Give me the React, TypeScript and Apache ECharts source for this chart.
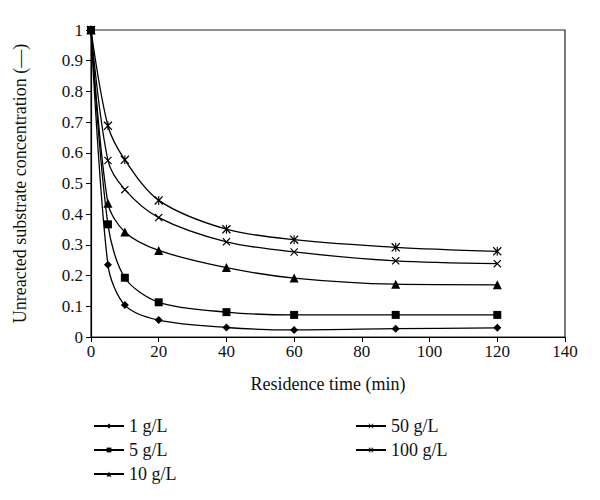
import React, { useEffect, useRef } from "react";
import * as echarts from "echarts";

const times = [0, 5, 10, 20, 40, 60, 90, 120];
const seriesNames = ["1 g/L", "5 g/L", "10 g/L", "50 g/L", "100 g/L"];
const s1 = [1, 0.235, 0.104, 0.055, 0.031, 0.023, 0.027, 0.03];
const s5 = [1, 0.367, 0.193, 0.113, 0.081, 0.072, 0.072, 0.072];
const s10 = [1, 0.436, 0.342, 0.282, 0.226, 0.192, 0.172, 0.17];
const s50 = [1, 0.575, 0.48, 0.389, 0.31, 0.277, 0.248, 0.239];
const s100 = [1, 0.688, 0.577, 0.445, 0.351, 0.317, 0.292, 0.279];

const xSym = "path://M0,1L1,0L5,4L9,0L10,1L6,5L10,9L9,10L5,6L1,10L0,9L4,5Z";
const starSym =
  "path://M0,1L1,0L4.4,3.4L4.4,0L5.6,0L5.6,3.4L9,0L10,1L6.2,4.8L6.2,5.2L10,9L9,10L5.6,6.6L5.6,10L4.4,10L4.4,6.6L1,10L0,9L3.8,5.2L3.8,4.8Z";

const symbols = ["diamond", "rect", "triangle", xSym, starSym];
const symSizes = [8, 8, 9, 8, 9];
const allData = [s1, s5, s10, s50, s100];

const FONT = "'Liberation Serif', 'DejaVu Serif', serif";

export default function App() {
  const ref = useRef<HTMLDivElement>(null);
  useEffect(() => {
    if (!ref.current) return;
    const chart = echarts.init(ref.current, null, { renderer: "svg" });
    const series = allData.map((d, i) => ({
      name: seriesNames[i],
      type: "line",
      smooth: 0.3,
      data: d.map((v, j) => [times[j], v]),
      symbol: symbols[i],
      symbolSize: symSizes[i],
      showSymbol: true,
      lineStyle: { color: "#000", width: 1.3 },
      itemStyle: { color: "#000" },
    }));
    const legendText = { fontFamily: FONT, fontSize: 18, color: "#111" };
    const legendBase = {
      orient: "vertical",
      top: 412,
      itemGap: 6,
      itemWidth: 30,
      itemHeight: 6,
      textStyle: legendText,
    };
    chart.setOption({
      animation: false,
      backgroundColor: "#fff",
      textStyle: { fontFamily: FONT },
      grid: { left: 91, right: 35, top: 30, bottom: 163, show: true, borderColor: "#222", borderWidth: 1.2 },
      legend: [
        { ...legendBase, data: seriesNames.slice(0, 3), left: 88 },
        { ...legendBase, data: seriesNames.slice(3), left: 350 },
      ],
      xAxis: {
        type: "value",
        min: 0,
        max: 140,
        interval: 20,
        name: "Residence time (min)",
        nameLocation: "middle",
        nameGap: 38,
        nameTextStyle: { fontFamily: FONT, fontSize: 18, color: "#111" },
        axisLine: { lineStyle: { color: "#000", width: 1.2 } },
        axisTick: { show: true, inside: false, length: 5, lineStyle: { color: "#000" } },
        axisLabel: { fontFamily: FONT, fontSize: 17, color: "#111", margin: 6 },
        splitLine: { show: false },
      },
      yAxis: {
        type: "value",
        min: 0,
        max: 1,
        interval: 0.1,
        name: "Unreacted substrate concentration (—)",
        nameLocation: "middle",
        nameGap: 62,
        nameTextStyle: { fontFamily: FONT, fontSize: 18, color: "#111" },
        axisLine: { lineStyle: { color: "#000", width: 1.2 } },
        axisTick: { show: true, inside: false, length: 5, lineStyle: { color: "#000" } },
        axisLabel: {
          fontFamily: FONT,
          fontSize: 17,
          color: "#111",
          margin: 8,
          formatter: (v: number) => String(Math.round(v * 10) / 10),
        },
        splitLine: { show: false },
      },
      series,
    });
    return () => chart.dispose();
  }, []);
  return <div ref={ref} style={{ width: 600, height: 500, position: "absolute", left: 0, top: 0 }} />;
}
